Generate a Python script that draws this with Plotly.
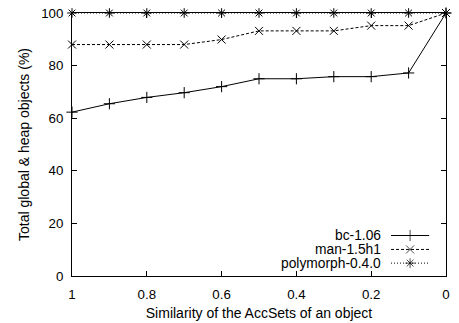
import plotly.graph_objects as go

similarity = [1.0, 0.9, 0.8, 0.7, 0.6, 0.5, 0.4, 0.3, 0.2, 0.1, 0.0]
bc = [62.3, 65.5, 67.9, 69.7, 72.0, 75.0, 75.0, 75.8, 75.8, 77.2, 100.0]
man = [88.0, 88.0, 88.0, 88.0, 89.9, 93.2, 93.2, 93.2, 95.2, 95.2, 100.0]
poly = [100.0] * 11

names = ["bc-1.06", "man-1.5h1", "polymorph-0.4.0"]
symbols = ["cross-thin-open", "x-thin-open", "asterisk-open"]
dashes = ["solid", "3px,2px", "1px,2px"]
series = [bc, man, poly]

xticks = [1, 0.8, 0.6, 0.4, 0.2, 0]
xtick_text = ["1", "0.8", "0.6", "0.4", "0.2", "0"]
yticks = [0, 20, 40, 60, 80, 100]

FONT = "Liberation Sans, Arial, sans-serif"
MS = 8

fig = go.Figure()
for name, ys, sym, dash in zip(names, series, symbols, dashes):
    fig.add_trace(go.Scatter(
        x=similarity, y=ys, mode="lines+markers", name=name,
        line=dict(color="black", width=1, dash=dash),
        marker=dict(symbol=sym, size=MS, color="black", line=dict(color="black", width=1)),
        showlegend=False, cliponaxis=False,
    ))

# custom gnuplot-style key (text right, sample on the right)
key_rows = [0.154, 0.101, 0.049]
for name, sym, dash, ky in zip(names, symbols, dashes, key_rows):
    fig.add_trace(go.Scatter(
        x=[0.853, 0.904, 0.955], y=[ky, ky, ky], mode="lines+markers",
        xaxis="x2", yaxis="y2",
        line=dict(color="black", width=1, dash=dash),
        marker=dict(symbol=sym, size=[0, MS, 0], color="black", line=dict(color="black", width=1)),
        showlegend=False, hoverinfo="skip",
    ))
    fig.add_annotation(x=0.829, y=ky, xref="paper", yref="paper", text=name,
                       showarrow=False, xanchor="right", yanchor="middle",
                       borderpad=0,
                       font=dict(family=FONT, size=13.8, color="black"))

fig.update_layout(
    width=459, height=323,
    margin=dict(l=72, r=13, t=13, b=47),
    paper_bgcolor="white", plot_bgcolor="white",
    font=dict(family=FONT, size=13.3, color="black"),
    xaxis=dict(range=[1, 0], tickvals=xticks, ticktext=xtick_text,
               ticks="inside", ticklen=5, tickwidth=1, tickcolor="black",
               ticklabelstandoff=6, automargin=False,
               showline=True, linecolor="black", linewidth=1, mirror="ticks",
               showgrid=False, zeroline=False,
               title=dict(text="Similarity of the AccSets of an object", standoff=7,
                          font=dict(size=14))),
    yaxis=dict(range=[0, 100], tickvals=yticks,
               ticks="inside", ticklen=5, tickwidth=1, tickcolor="black",
               ticklabelstandoff=5, automargin=False,
               showline=True, linecolor="black", linewidth=1, mirror="ticks",
               showgrid=False, zeroline=False,
               title=dict(text="Total global & heap objects (%)", standoff=8,
                          font=dict(size=14))),
    xaxis2=dict(range=[0, 1], overlaying="x", visible=False, fixedrange=True),
    yaxis2=dict(range=[0, 1], overlaying="y", visible=False, fixedrange=True),
)

fig.write_html("out.html")
